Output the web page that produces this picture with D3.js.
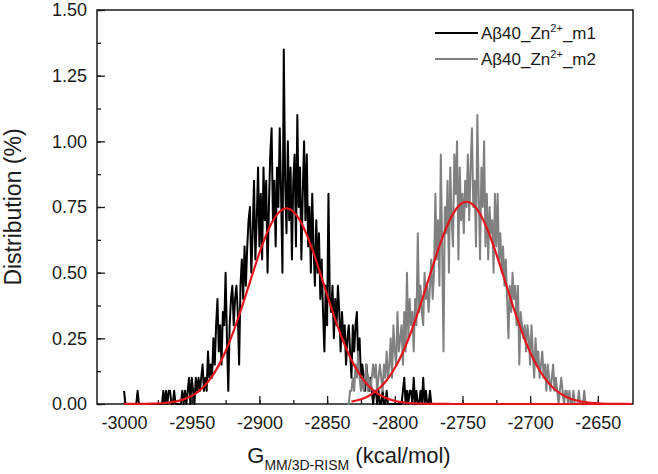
<!DOCTYPE html>
<html><head><meta charset="utf-8">
<script src="https://cdn.jsdelivr.net/npm/d3@7/dist/d3.min.js"></script>
<style>
body{margin:0;background:#fff}
svg text{font-family:Arial,"Liberation Sans",sans-serif;fill:#1a1a1a}
</style>
</head><body>
<svg id="chart" width="658" height="474"></svg>
<script>
// ---------- data ----------
const seriesNames = ["m1", "m2"];
const binWidth = 1;
const m1Start = -3000;
const m1Values = [
 0.05,0,0,0,0,0,0,0,0,0,
 0.05,0,0,0,0,0,0,0,0,0,
 0,0,0,0,0,0,0,0,0,0.05,
 0,0.05,0,0.05,0.05,0,0,0.05,0,0,
 0,0,0,0.05,0,0.05,0,0.05,0.1,0,
 0.1,0.05,0,0.1,0.05,0.1,0.05,0.1,0.15,0.05,
 0.1,0.05,0.2,0.1,0.15,0.1,0.25,0.15,0.3,0.4,
 0.2,0.3,0.15,0.35,0.3,0.5,0.25,0.05,0.3,0.4,
 0.45,0.3,0.4,0.45,0.35,0.15,0.45,0.55,0.4,0.6,
 0.45,0.6,0.7,0.75,0.5,0.65,0.85,0.55,0.7,0.9,
 0.6,0.8,0.55,0.9,0.7,0.85,0.5,0.75,0.95,1.05,
 0.7,0.85,0.6,0.9,0.75,1.05,0.8,0.5,1.35,0.85,
 0.65,1.0,0.7,0.9,0.55,0.85,0.95,0.6,1.1,0.75,
 0.9,0.55,0.8,1.0,0.7,0.95,0.6,0.75,0.5,0.8,
 0.6,0.45,0.7,0.5,0.65,0.4,0.55,0.35,0.2,0.45,
 0.3,0.8,0.4,0.35,0.45,0.25,0.4,0.3,0.45,0.35,
 0.2,0.35,0.25,0.3,0.15,0.25,0.3,0.2,0.1,0.3,
 0.2,0.3,0.35,0.15,0.25,0.1,0.15,0.1,0.05,0.15,
 0.1,0.05,0.1,0.05,0,0.05,0.05,0,0.05,0,
 0,0.05,0,0,0.05,0,0,0,0,0,
 0,0,0,0,0,0,0.05,0.1,0,0.05,
 0,0.05,0.05,0,0.1,0,0.05,0,0,0.05,
 0,0.1,0,0.05,0,0,0.05,0,0,0
];
const m2Start = -2835;
const m2Values = [
 0,0,0.05,0.05,0.1,0.05,0.15,0.1,0.2,0.1,
 0.05,0.1,0.05,0.1,0.15,0.05,0.1,0.05,0.1,0.15,
 0.1,0.15,0.05,0.1,0.15,0.1,0.05,0.15,0.1,0.2,
 0.1,0.15,0.25,0.1,0.3,0.2,0.15,0.35,0.2,0.25,
 0.3,0.15,0.35,0.2,0.5,0.25,0.4,0.3,0.35,0.2,
 0.4,0.3,0.65,0.35,0.45,0.35,0.3,0.5,0.4,0.45,
 0.35,0.45,0.55,0.4,0.5,0.8,0.55,0.7,0.45,0.95,
 0.6,0.2,0.75,0.65,0.85,0.5,0.9,0.7,0.6,0.95,
 0.8,1.0,0.55,0.9,0.7,0.8,0.65,0.85,0.75,0.95,
 0.7,0.9,1.05,0.75,0.85,0.6,1.1,0.8,0.55,0.9,
 0.75,1.0,0.6,0.8,0.55,0.75,0.65,0.7,0.5,0.8,
 0.6,0.8,0.55,0.65,0.5,0.6,0.45,0.55,0.4,0.25,
 0.45,0.35,0.5,0.4,0.45,0.3,0.45,0.15,0.35,0.3,
 0.25,0.3,0.2,0.3,0.25,0.15,0.3,0.2,0.1,0.25,
 0.15,0.2,0.1,0.15,0.2,0.1,0.15,0.05,0.15,0.1,
 0.05,0.1,0.15,0.05,0.1,0.05,0,0.05,0.1,0.05,
 0,0.05,0.05,0,0.05,0,0,0.05,0,0,
 0,0.05,0,0,0,0.05,0,0,0,0,
 0,0,0,0,0,0
];
const fitStep = 5;
const fit1Start = -3000;
const fit1Values = [
 0.0001,0.0001,0.0003,0.0006,0.0012,0.0022,0.0039,0.0070,0.0119,0.0196,
 0.0313,0.0484,0.0726,0.105,0.148,0.201,0.265,0.337,0.416,0.497,
 0.575,0.644,0.698,0.733,0.745,0.733,0.698,0.644,0.575,0.497,
 0.416,0.337,0.265,0.201,0.148,0.105,0.0726,0.0484,0.0313,0.0196,
 0.0119,0.0070,0.0039,0.0022,0.0012,0.0006,0.0003,0.0001,0.0001,
 0,0,0,0,0,0,0,0,0,0,0,0,0,0,0,0,0,0,0,0,0,0,0,0,0,0,0
];
const fit2Start = -2832;
const fit2Values = [
 0.0090,0.0150,0.0241,0.0377,0.0571,0.0839,0.120,0.165,0.221,0.288,
 0.362,0.443,0.524,0.602,0.670,0.724,0.758,0.770,0.758,0.724,
 0.670,0.602,0.524,0.443,0.362,0.288,0.221,0.165,0.120,0.0839,
 0.0571,0.0377,0.0241,0.0150,0.0090,0.0053,0.0030,0.0016,0.0009,0.0004,
 0.0002,0.0001
];
const xTicks = [-3000,-2950,-2900,-2850,-2800,-2750,-2700,-2650];
const xMinorTicks = [-3000,-2975,-2950,-2925,-2900,-2875,-2850,-2825,-2800,-2775,-2750,-2725,-2700,-2675,-2650];
const yTicks = [0,0.25,0.5,0.75,1.0,1.25,1.5];
const yMinorTicks = [0,0.125,0.25,0.375,0.5,0.625,0.75,0.875,1.0,1.125,1.25,1.375,1.5];

// ---------- layout ----------
const svg = d3.select("#chart");
const L = 97, R = 633, T = 10, B = 404;
const x = d3.scaleLinear().domain([-3020, -2624]).range([L, R]);
const y = d3.scaleLinear().domain([0, 1.5]).range([B, T]);
const ink = "#1a1a1a";

const toPts = (start, step, vals) => vals.map((v, i) => [start + i * step, v]);

// frame
svg.append("rect").attr("x", L).attr("y", T).attr("width", R - L).attr("height", B - T)
  .attr("fill", "none").attr("stroke", ink).attr("stroke-width", 1.5);

// axes (ticks pointing inward)
const gx = svg.append("g").attr("transform", `translate(0,${B})`);
gx.call(d3.axisBottom(x).tickValues(xMinorTicks).tickSize(-4).tickFormat(""));
const gx2 = svg.append("g").attr("transform", `translate(0,${B})`);
gx2.call(d3.axisBottom(x).tickValues(xTicks).tickSize(-8).tickPadding(12).tickFormat(d => d));
const gy = svg.append("g").attr("transform", `translate(${L},0)`);
gy.call(d3.axisLeft(y).tickValues(yMinorTicks).tickSize(-4).tickFormat(""));
const gy2 = svg.append("g").attr("transform", `translate(${L},0)`);
gy2.call(d3.axisLeft(y).tickValues(yTicks).tickSize(-8).tickPadding(10).tickFormat(d3.format(".2f")));
[gx, gx2, gy, gy2].forEach(g => {
  g.select(".domain").remove();
  g.selectAll(".tick line").attr("stroke", ink).attr("stroke-width", 1.3);
  g.selectAll("text").attr("font-size", 18).attr("fill", ink)
    .style("font-family", "Arial, 'Liberation Sans', sans-serif");
});

// clip
svg.append("clipPath").attr("id", "clip").append("rect")
  .attr("x", L).attr("y", T - 2).attr("width", R - L).attr("height", B - T + 4);
const plot = svg.append("g").attr("clip-path", "url(#clip)");

const line = d3.line().x(d => x(d[0])).y(d => y(d[1]));
const smooth = d3.line().x(d => x(d[0])).y(d => y(d[1])).curve(d3.curveMonotoneX);

plot.append("path").datum(toPts(m1Start, binWidth, m1Values))
  .attr("d", line).attr("fill", "none").attr("stroke", "#000").attr("stroke-width", 2).attr("stroke-linejoin", "round");
plot.append("path").datum(toPts(m2Start, binWidth, m2Values))
  .attr("d", line).attr("fill", "none").attr("stroke", "#808080").attr("stroke-width", 2).attr("stroke-linejoin", "round");
plot.append("path").datum(toPts(fit1Start, fitStep, fit1Values))
  .attr("d", smooth).attr("fill", "none").attr("stroke", "#e3141c").attr("stroke-width", 2.2);
plot.append("path").datum(toPts(fit2Start, fitStep, fit2Values))
  .attr("d", smooth).attr("fill", "none").attr("stroke", "#e3141c").attr("stroke-width", 2.2);

// legend
const legend = [{name: seriesNames[0], color: "#000", y: 33}, {name: seriesNames[1], color: "#808080", y: 59}];
legend.forEach(d => {
  svg.append("line").attr("x1", 435).attr("x2", 478).attr("y1", d.y).attr("y2", d.y)
    .attr("stroke", d.color).attr("stroke-width", 2);
  const t = svg.append("text").attr("x", 481).attr("y", d.y + 6).attr("font-size", 17);
  t.append("tspan").text("Aβ40_Zn");
  t.append("tspan").attr("font-size", 11).attr("dy", -7).text("2+");
  t.append("tspan").attr("dy", 7).text("_" + d.name);
});

// axis titles
svg.append("text").attr("transform", `translate(21,${(T + B) / 2}) rotate(-90)`)
  .attr("text-anchor", "middle").attr("font-size", 23).text("Distribution (%)");
const xt = svg.append("text").attr("x", 349).attr("y", 463).attr("text-anchor", "middle").attr("font-size", 22);
xt.append("tspan").text("G");
xt.append("tspan").attr("font-size", 14).attr("dy", 7).text("MM/3D-RISM");
xt.append("tspan").attr("dy", -7).text(" (kcal/mol)");
</script>
</body></html>
